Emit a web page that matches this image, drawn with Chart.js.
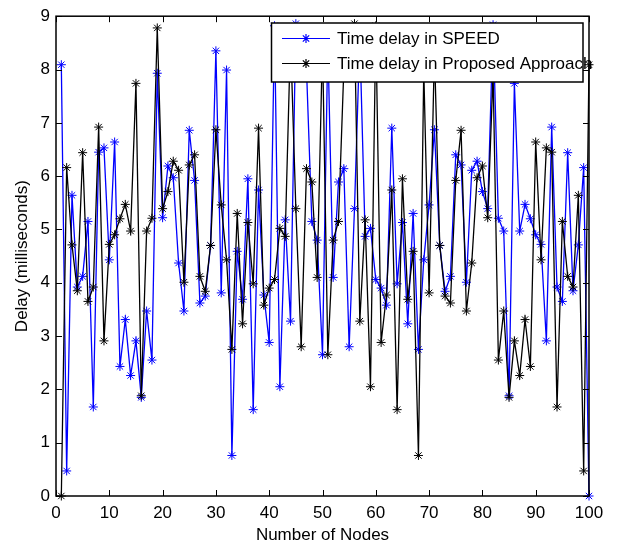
<!DOCTYPE html>
<html>
<head>
<meta charset="utf-8">
<script src="https://cdn.jsdelivr.net/npm/chart.js@4.4.1/dist/chart.umd.min.js"></script>
<style>
html,body{margin:0;padding:0;background:#fff;}
#wrap{width:624px;height:550px;}
</style>
</head>
<body>
<div id="wrap"><canvas id="c" width="624" height="550"></canvas></div>
<script>
const nodeNumbers = [1,2,3,4,5,6,7,8,9,10,11,12,13,14,15,16,17,18,19,20,
21,22,23,24,25,26,27,28,29,30,31,32,33,34,35,36,37,38,39,40,
41,42,43,44,45,46,47,48,49,50,51,52,53,54,55,56,57,58,59,60,
61,62,63,64,65,66,67,68,69,70,71,72,73,74,75,76,77,78,79,80,
81,82,83,84,85,86,87,88,89,90,91,92,93,94,95,96,97,98,99,100];

const speedDelay = [8.09,0.47,5.64,3.92,4.12,5.15,1.67,6.45,6.53,4.43,
6.64,2.43,3.31,2.26,2.91,1.85,3.47,2.55,7.93,5.22,
6.19,5.97,4.37,3.47,6.86,5.92,3.62,3.75,4.70,8.35,
3.81,7.99,0.76,4.59,3.69,5.95,1.62,5.74,3.77,2.88,
8.82,2.05,5.18,3.28,8.86,8.30,8.00,5.15,4.80,2.65,
8.50,4.10,5.89,6.14,2.80,5.39,8.60,4.87,5.02,4.06,
3.90,3.58,6.90,3.98,5.13,3.23,5.30,2.75,4.43,5.46,
6.87,4.70,3.84,4.12,6.40,6.21,4.01,6.11,6.28,5.71,
5.39,8.84,5.21,4.97,1.88,7.74,4.97,5.47,5.20,4.90,
4.72,2.91,6.92,3.92,3.65,6.44,3.85,4.71,6.16,0];

const proposedDelay = [0,6.16,4.71,3.85,6.44,3.65,3.92,6.92,2.91,4.72,
4.90,5.20,5.47,4.97,7.74,1.88,4.97,5.21,8.78,5.39,
5.71,6.28,6.11,4.01,6.21,6.40,4.12,3.84,4.70,6.87,
5.46,4.43,2.75,5.30,3.23,5.13,3.98,6.90,3.58,3.90,
4.06,5.02,4.87,8.60,5.39,2.80,6.14,5.89,4.10,8.50,
2.65,4.80,5.15,8.00,8.30,8.86,3.28,5.18,2.05,8.82,
2.88,3.77,5.74,1.62,5.95,3.69,4.59,0.76,7.99,3.81,
8.35,4.70,3.75,3.62,5.92,6.86,3.47,4.37,5.97,6.19,
5.22,7.93,2.55,3.47,1.85,2.91,2.26,3.31,2.43,6.64,
4.43,6.53,6.45,1.67,5.15,4.12,3.92,5.64,0.47,8.09];

const xTickValues = [0,10,20,30,40,50,60,70,80,90,100];
const yTickValues = [0,1,2,3,4,5,6,7,8,9];
const seriesNames = ['Time delay in SPEED', 'Time delay in Proposed Approach'];
const seriesColors = ['#0000ff', '#000000'];

const FONT = '"Liberation Sans", Arial, Helvetica, sans-serif';
const FS = 17;

const toPoints = (vals) => vals.map((v, i) => ({x: nodeNumbers[i], y: v}));

const framePlugin = {
  id: 'frameTicks',
  afterDatasetsDraw(chart) {
    const {ctx, chartArea: a, scales: {x, y}} = chart;
    ctx.save();
    ctx.strokeStyle = '#000';
    ctx.lineWidth = 1;
    const L = 6;
    ctx.beginPath();
    xTickValues.forEach(v => {
      const px = Math.round(x.getPixelForValue(v)) + 0.5;
      ctx.moveTo(px, a.bottom); ctx.lineTo(px, a.bottom - L);
      ctx.moveTo(px, a.top); ctx.lineTo(px, a.top + L);
    });
    yTickValues.forEach(v => {
      const py = Math.round(y.getPixelForValue(v)) + 0.5;
      ctx.moveTo(a.left, py); ctx.lineTo(a.left + L, py);
      ctx.moveTo(a.right, py); ctx.lineTo(a.right - L, py);
    });
    ctx.stroke();
    ctx.lineWidth = 1.5;
    ctx.strokeRect(a.left, a.top, a.right - a.left, a.bottom - a.top);

    // legend box
    const bx = 271.5, by = 23, bw = 311.5, bh = 59;
    ctx.fillStyle = '#fff';
    ctx.fillRect(bx, by, bw, bh);
    ctx.lineWidth = 1.5;
    ctx.strokeStyle = '#000';
    ctx.strokeRect(bx, by, bw, bh);
    const rows = [38.5, 63.5];
    rows.forEach((ry, i) => {
      ctx.strokeStyle = seriesColors[i];
      ctx.lineWidth = 1.2;
      ctx.beginPath();
      ctx.moveTo(282, ry); ctx.lineTo(330, ry);
      ctx.stroke();
      Chart.helpers.drawPoint(ctx, {pointStyle: 'star', radius: 4.5, borderWidth: 1}, 306, ry);
      ctx.fillStyle = '#000';
      ctx.font = FS + 'px ' + FONT;
      ctx.textBaseline = 'middle';
      ctx.textAlign = 'left';
      ctx.fillText(seriesNames[i], 337, ry + 1);
    });
    ctx.restore();
  }
};

new Chart(document.getElementById('c'), {
  type: 'line',
  data: {
    datasets: [
      {
        label: seriesNames[0],
        data: toPoints(speedDelay),
        borderColor: seriesColors[0],
        backgroundColor: seriesColors[0],
        borderWidth: 1.3,
        pointStyle: 'star',
        pointRadius: 4.5,
        pointBorderWidth: 1,
        pointBorderColor: seriesColors[0],
        tension: 0,
        fill: false,
        clip: false,
        order: 2
      },
      {
        label: seriesNames[1],
        data: toPoints(proposedDelay),
        borderColor: seriesColors[1],
        backgroundColor: seriesColors[1],
        borderWidth: 1.3,
        pointStyle: 'star',
        pointRadius: 4.5,
        pointBorderWidth: 1,
        pointBorderColor: seriesColors[1],
        tension: 0,
        fill: false,
        clip: false,
        order: 1
      }
    ]
  },
  options: {
    responsive: false,
    devicePixelRatio: 1,
    animation: false,
    layout: {padding: {top: 13, right: 35, left: 0, bottom: 0}},
    plugins: {legend: {display: false}, tooltip: {enabled: false}},
    scales: {
      x: {
        type: 'linear',
        min: 0, max: 100,
        grid: {display: false, drawTicks: false},
        border: {display: false},
        ticks: {stepSize: 10, color: '#000', font: {family: FONT, size: FS}, padding: 7, maxRotation: 0},
        title: {display: true, text: 'Number of Nodes', color: '#000', font: {family: FONT, size: FS}, padding: {top: 0, bottom: 4}},
        afterFit(scale) { scale.height = 54; }
      },
      y: {
        min: 0, max: 9,
        grid: {display: false, drawTicks: false},
        border: {display: false},
        ticks: {stepSize: 1, color: '#000', font: {family: FONT, size: FS}, padding: 6},
        title: {display: true, text: 'Delay (milliseconds)', color: '#000', font: {family: FONT, size: FS}, padding: {top: 12.5, bottom: 0}},
        afterFit(scale) { scale.width = 56; }
      }
    }
  },
  plugins: [framePlugin]
});
</script>
</body>
</html>
